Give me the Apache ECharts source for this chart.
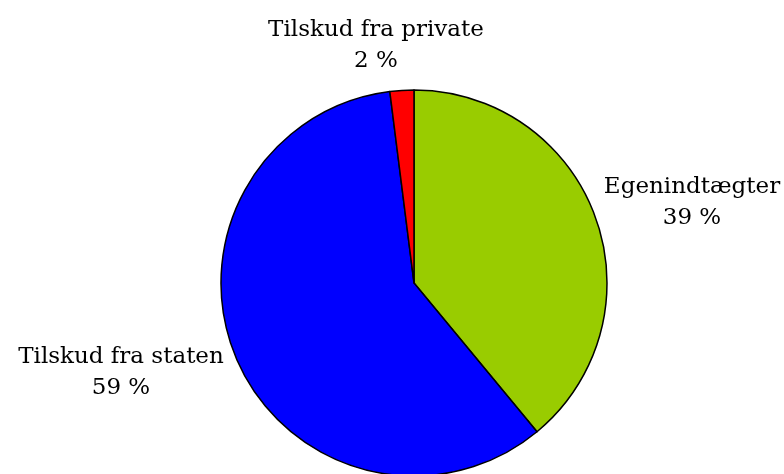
<!DOCTYPE html>
<html>
<head>
<meta charset="utf-8">
<script src="https://cdn.jsdelivr.net/npm/echarts@6/dist/echarts.min.js"></script>
<style>
  html, body { margin: 0; padding: 0; background: #fff; }
  #chart { width: 784px; height: 474px; }
</style>
</head>
<body>
<div id="chart"></div>
<script>
// data
var names = ["Egenindtægter", "Tilskud fra staten", "Tilskud fra private"];
var values = [39, 59, 2];
var colors = ["#99CC00", "#0000FF", "#FF0000"];

// label anchor points (center of each two-line label)
var labelPos = [[692, 203], [121, 373], [376, 46]];

var chart = echarts.init(document.getElementById("chart"));
var option = {
  animation: false,
  series: [
    {
      type: "pie",
      center: [414, 283],
      radius: 193,
      startAngle: 90,
      clockwise: true,
      avoidLabelOverlap: false,
      itemStyle: { borderColor: "#000", borderWidth: 1.5 },
      label: {
        show: true,
        position: "outside",
        alignTo: "none",
        overflow: "none",
        formatter: function (p) {
          return p.name + "\n" + p.value + " %";
        },
        fontFamily: "'DejaVu Serif', serif",
        fontSize: 23,
        lineHeight: 31,
        color: "#000",
        align: "center"
      },
      labelLine: { show: false },
      labelLayout: function (params) {
        var pos = labelPos[params.dataIndex];
        return { x: pos[0], y: pos[1], align: "center", verticalAlign: "middle" };
      },
      emphasis: { disabled: true },
      data: names.map(function (n, i) {
        return { name: n, value: values[i], itemStyle: { color: colors[i] } };
      })
    }
  ]
};
chart.setOption(option);
</script>
</body>
</html>
